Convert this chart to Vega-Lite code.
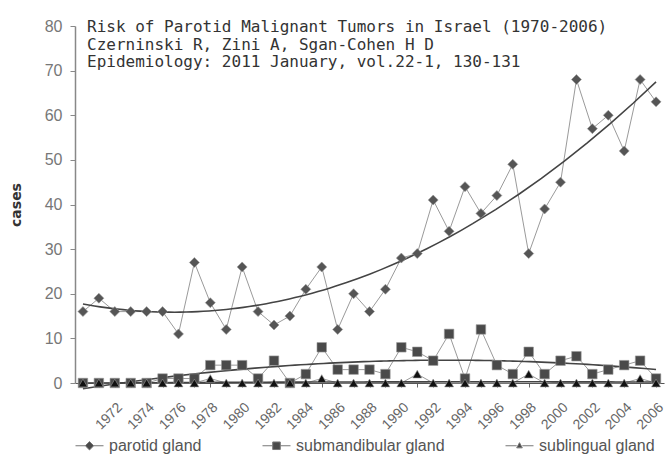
{
  "$schema": "https://vega.github.io/schema/vega-lite/v6.json",
  "width": 589,
  "height": 357,
  "autosize": {"type": "none"},
  "padding": {"left": 75, "top": 26, "right": 3, "bottom": 73},
  "background": "white",
  "config": {"view": {"stroke": null}, "font": "Liberation Sans"},
  "title": {
    "text": ["Risk of Parotid Malignant Tumors in Israel (1970-2006)", "Czerninski R, Zini A, Sgan-Cohen H D", "Epidemiology: 2011 January, vol.22-1, 130-131"],
    "anchor": "start", "frame": "group", "orient": "top", "baseline": "top",
    "offset": 0, "dx": 12, "dy": 52,
    "font": "DejaVu Sans Mono", "fontSize": 16, "fontWeight": "normal", "color": "#333", "lineHeight": 17.5
  },
  "data": {"values": [
    {"year": 1970, "parotid gland": 16, "submandibular gland": 0, "sublingual gland": 0},
    {"year": 1971, "parotid gland": 19, "submandibular gland": 0, "sublingual gland": 0},
    {"year": 1972, "parotid gland": 16, "submandibular gland": 0, "sublingual gland": 0},
    {"year": 1973, "parotid gland": 16, "submandibular gland": 0, "sublingual gland": 0},
    {"year": 1974, "parotid gland": 16, "submandibular gland": 0, "sublingual gland": 0},
    {"year": 1975, "parotid gland": 16, "submandibular gland": 1, "sublingual gland": 0},
    {"year": 1976, "parotid gland": 11, "submandibular gland": 1, "sublingual gland": 0},
    {"year": 1977, "parotid gland": 27, "submandibular gland": 1, "sublingual gland": 0},
    {"year": 1978, "parotid gland": 18, "submandibular gland": 4, "sublingual gland": 1},
    {"year": 1979, "parotid gland": 12, "submandibular gland": 4, "sublingual gland": 0},
    {"year": 1980, "parotid gland": 26, "submandibular gland": 4, "sublingual gland": 0},
    {"year": 1981, "parotid gland": 16, "submandibular gland": 1, "sublingual gland": 0},
    {"year": 1982, "parotid gland": 13, "submandibular gland": 5, "sublingual gland": 0},
    {"year": 1983, "parotid gland": 15, "submandibular gland": 0, "sublingual gland": 0},
    {"year": 1984, "parotid gland": 21, "submandibular gland": 2, "sublingual gland": 0},
    {"year": 1985, "parotid gland": 26, "submandibular gland": 8, "sublingual gland": 1},
    {"year": 1986, "parotid gland": 12, "submandibular gland": 3, "sublingual gland": 0},
    {"year": 1987, "parotid gland": 20, "submandibular gland": 3, "sublingual gland": 0},
    {"year": 1988, "parotid gland": 16, "submandibular gland": 3, "sublingual gland": 0},
    {"year": 1989, "parotid gland": 21, "submandibular gland": 2, "sublingual gland": 0},
    {"year": 1990, "parotid gland": 28, "submandibular gland": 8, "sublingual gland": 0},
    {"year": 1991, "parotid gland": 29, "submandibular gland": 7, "sublingual gland": 2},
    {"year": 1992, "parotid gland": 41, "submandibular gland": 5, "sublingual gland": 0},
    {"year": 1993, "parotid gland": 34, "submandibular gland": 11, "sublingual gland": 0},
    {"year": 1994, "parotid gland": 44, "submandibular gland": 1, "sublingual gland": 0},
    {"year": 1995, "parotid gland": 38, "submandibular gland": 12, "sublingual gland": 0},
    {"year": 1996, "parotid gland": 42, "submandibular gland": 4, "sublingual gland": 0},
    {"year": 1997, "parotid gland": 49, "submandibular gland": 2, "sublingual gland": 0},
    {"year": 1998, "parotid gland": 29, "submandibular gland": 7, "sublingual gland": 2},
    {"year": 1999, "parotid gland": 39, "submandibular gland": 2, "sublingual gland": 0},
    {"year": 2000, "parotid gland": 45, "submandibular gland": 5, "sublingual gland": 0},
    {"year": 2001, "parotid gland": 68, "submandibular gland": 6, "sublingual gland": 0},
    {"year": 2002, "parotid gland": 57, "submandibular gland": 2, "sublingual gland": 0},
    {"year": 2003, "parotid gland": 60, "submandibular gland": 3, "sublingual gland": 0},
    {"year": 2004, "parotid gland": 52, "submandibular gland": 4, "sublingual gland": 0},
    {"year": 2005, "parotid gland": 68, "submandibular gland": 5, "sublingual gland": 1},
    {"year": 2006, "parotid gland": 63, "submandibular gland": 1, "sublingual gland": 0}
  ]},
  "transform": [{"fold": ["parotid gland", "submandibular gland", "sublingual gland"], "as": ["key", "value"]}],
  "encoding": {
    "x": {
      "field": "year", "type": "quantitative",
      "scale": {"domain": [1969.5, 2006.5], "nice": false, "zero": false},
      "axis": {
        "values": [1970,1971,1972,1973,1974,1975,1976,1977,1978,1979,1980,1981,1982,1983,1984,1985,1986,1987,1988,1989,1990,1991,1992,1993,1994,1995,1996,1997,1998,1999,2000,2001,2002,2003,2004,2005,2006],
        "labelExpr": "datum.value >= 1972 && datum.value % 2 == 0 ? '' + datum.value : ''",
        "labelAngle": -45, "labelFontSize": 14, "labelColor": "#666", "labelPadding": 13, "labelDx": -12, "labelDy": -6,
        "labelOverlap": false, "labelFlush": false,
        "tickSize": 4, "tickColor": "#666", "domainColor": "#555", "domainWidth": 1.2,
        "grid": false, "title": null
      }
    },
    "y": {
      "field": "value", "type": "quantitative",
      "scale": {"domain": [0, 80], "nice": false},
      "axis": {
        "values": [0,10,20,30,40,50,60,70,80],
        "title": "cases", "titleFont": "DejaVu Sans", "titleFontWeight": "bold", "titleFontSize": 14,
        "titleColor": "#333", "titlePadding": 21,
        "labelFontSize": 16, "labelColor": "#777", "labelPadding": 8,
        "tickSize": 5, "tickColor": "#888", "domainColor": "#888", "domainWidth": 1.5, "grid": false
      }
    }
  },
  "layer": [
    {
      "mark": {"type": "line", "stroke": "#9a9a9a", "strokeWidth": 1},
      "encoding": {"detail": {"field": "key", "type": "nominal"}}
    },
    {
      "transform": [{"regression": "value", "on": "year", "groupby": ["key"], "method": "poly", "order": 2, "extent": [1970, 2006]}],
      "mark": {"type": "line", "stroke": "#444", "strokeWidth": 1.6},
      "encoding": {"detail": {"field": "key", "type": "nominal"}}
    },
    {
      "mark": {"type": "point", "filled": true, "opacity": 1, "stroke": "#9a9a9a", "strokeWidth": 0.6},
      "encoding": {
        "shape": {"field": "key", "type": "nominal", "scale": {"domain": ["parotid gland", "submandibular gland", "sublingual gland"], "range": ["diamond", "square", "triangle-up"]}, "legend": null},
        "fill": {"field": "key", "type": "nominal", "scale": {"domain": ["parotid gland", "submandibular gland", "sublingual gland"], "range": ["#555555", "#4a4a4a", "#111111"]}, "legend": null},
        "size": {"field": "key", "type": "ordinal", "scale": {"domain": ["parotid gland", "submandibular gland", "sublingual gland"], "range": [100, 81, 36]}, "legend": null}
      }
    },
    {
      "transform": [{"filter": "datum.year < 0"}],
      "mark": {"type": "point", "filled": true, "opacity": 1, "fill": "#4a4a4a", "stroke": "#777", "strokeWidth": 1},
      "encoding": {
        "shape": {
          "field": "key", "type": "nominal",
          "scale": {"domain": ["parotid gland", "submandibular gland", "sublingual gland"], "range": ["M-1,0H-0.3M0.3,0H1M0,-0.3L0.3,0L0,0.3L-0.3,0Z", "M-1,0H-0.27M0.27,0H1M-0.27,-0.27H0.27V0.27H-0.27Z", "M-1,0H-0.2M0.2,0H1M0,-0.22L0.2,0.15L-0.2,0.15Z"]},
          "legend": {
            "orient": "none", "legendX": 0, "legendY": 405, "direction": "horizontal", "columns": 3,
            "title": null, "columnPadding": 58, "symbolSize": 784, "symbolStrokeWidth": 1,
            "labelFontSize": 16, "labelColor": "#555", "labelFont": "Liberation Sans", "labelOffset": 5, "labelLimit": 300
          }
        }
      }
    }
  ],
  "resolve": {"scale": {"shape": "independent"}}
}
